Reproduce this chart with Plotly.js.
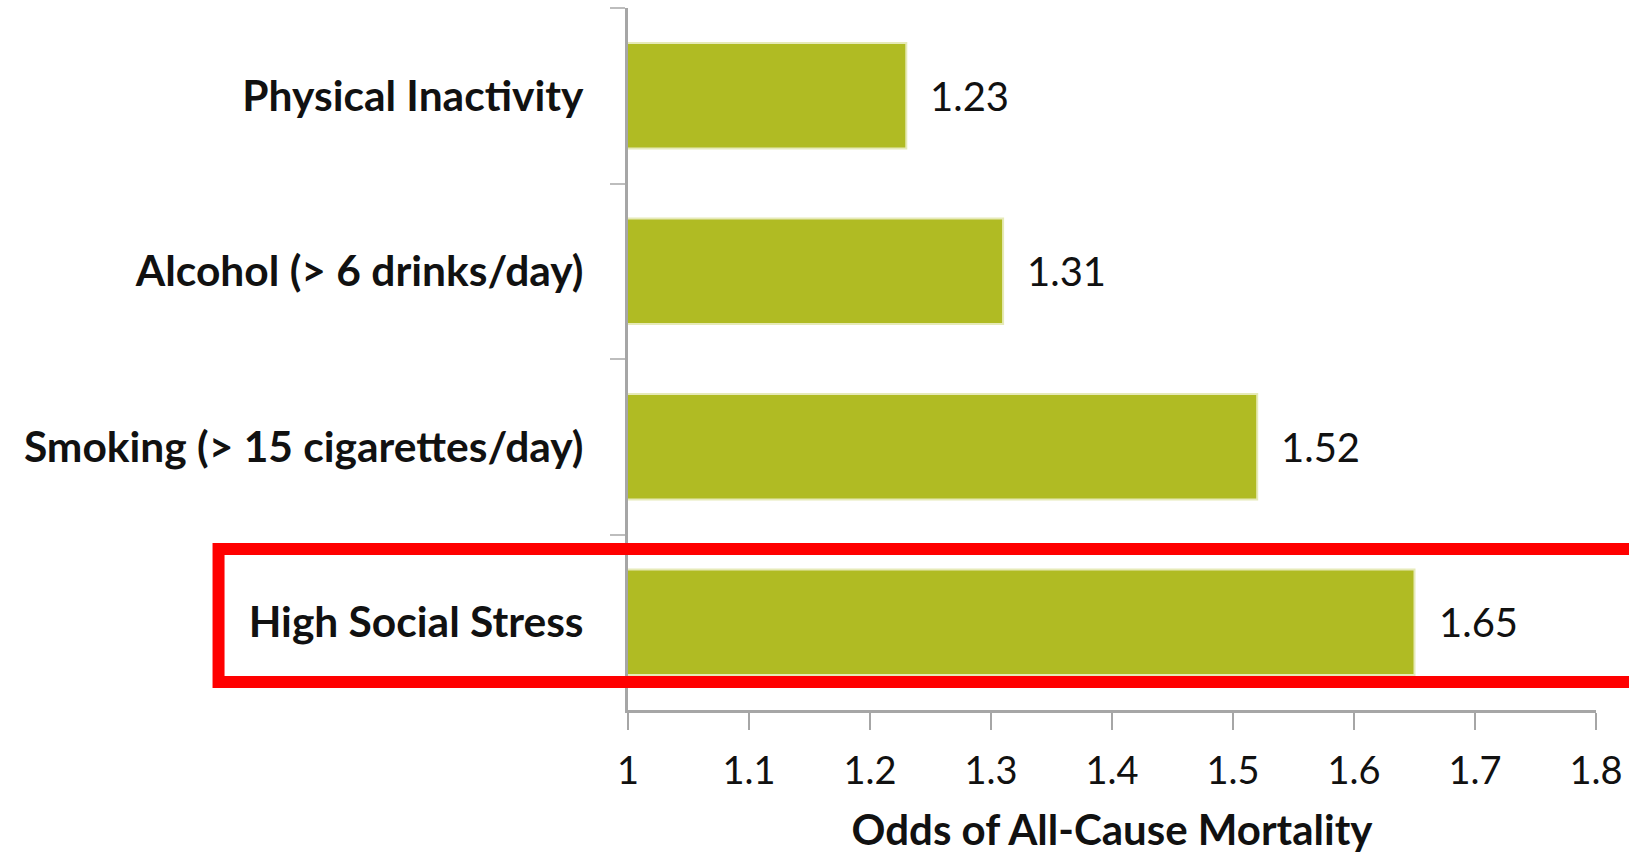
<!DOCTYPE html>
<html>
<head>
<meta charset="utf-8">
<script src="https://cdn.plot.ly/plotly-3.0.1.min.js"></script>
<style>html,body{margin:0;padding:0;background:#fff;}#chart{width:1629px;height:854px;}</style>
</head>
<body>
<div id="chart"></div>
<script>
const categories = ["Physical Inactivity", "Alcohol (> 6 drinks/day)", "Smoking (> 15 cigarettes/day)", "High Social Stress"];
const odds = [1.23, 1.31, 1.52, 1.65];
const labels = ["1.23", "1.31", "1.52", "1.65"];
const xTicks = [1, 1.1, 1.2, 1.3, 1.4, 1.5, 1.6, 1.7, 1.8];
const xTickText = ["1", "1.1", "1.2", "1.3", "1.4", "1.5", "1.6", "1.7", "1.8"];
const highlighted = "High Social Stress";

const FONT = "Lato, 'Open Sans', sans-serif";

const trace = {
  type: "bar",
  orientation: "h",
  x: odds,
  y: categories,
  marker: { color: "#b0bb23", line: { color: "#e6eab8", width: 2 } },
  hoverinfo: "skip"
};

const annotations = odds.map((v, i) => ({
  x: v, y: categories[i], xref: "x", yref: "y",
  text: labels[i], showarrow: false, xanchor: "left", yanchor: "middle",
  xshift: 22, font: { family: FONT, size: 40, color: "#111" }
}));

const layout = {
  width: 1629, height: 854,
  margin: { l: 628, r: 33, t: 8, b: 144 },
  paper_bgcolor: "#ffffff", plot_bgcolor: "#ffffff",
  showlegend: false,
  bargap: 0.4,
  xaxis: {
    range: [1, 1.8],
    tickvals: xTicks, ticktext: xTickText,
    showgrid: false, zeroline: false,
    showline: true, linecolor: "#a6a6a6", linewidth: 3,
    ticks: "outside", ticklen: 17, tickwidth: 2, tickcolor: "#a6a6a6",
    tickfont: { family: FONT, size: 38, color: "#111" },
    ticklabelstandoff: 8,
    title: { text: "<b>Odds of All-Cause Mortality</b>", standoff: 27, font: { family: FONT, size: 42, color: "#111" } }
  },
  yaxis: {
    type: "category",
    autorange: "reversed",
    showgrid: false, zeroline: false,
    showline: true, linecolor: "#a6a6a6", linewidth: 3,
    ticks: "outside", tickson: "boundaries", ticklen: 15, tickwidth: 2, tickcolor: "#bdbdbd",
    ticklabelstandoff: 33,
    tickfont: { family: FONT, size: 42.5, color: "#111", weight: "bold" }
  },
  annotations: annotations,
  shapes: [{
    type: "rect", xref: "paper", yref: "paper",
    x0: -0.423, x1: 1.05, y0: 0.0398, y1: 0.2293,
    line: { color: "#ff0000", width: 12 }, fillcolor: "rgba(0,0,0,0)", layer: "above"
  }]
};

Plotly.newPlot("chart", [trace], layout, { displayModeBar: false, staticPlot: true });
</script>
</body>
</html>
